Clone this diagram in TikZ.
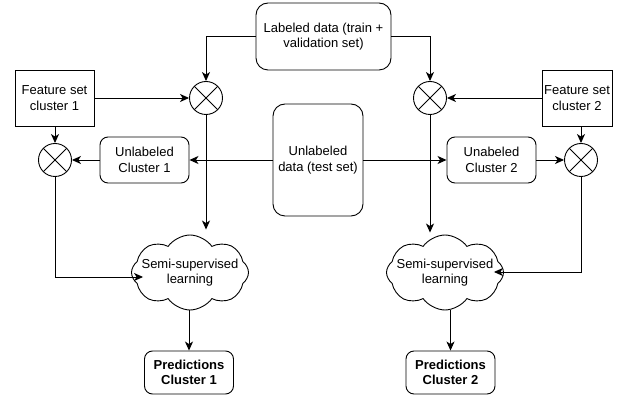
\documentclass[tikz,border=0pt]{standalone}
\usepackage{fontspec}
\setmainfont{Liberation Sans}
\usepackage{tikz}
\usetikzlibrary{shapes.symbols}
\usetikzlibrary{arrows.meta}
\usetikzlibrary{positioning}

\begin{document}
\begin{tikzpicture}[
	x=1pt,y=-1pt,
	line width=0.9pt,
	font=\fontsize{13}{15.5}\selectfont,
	>={Stealth[length=9pt,width=8pt,inset=2.5pt]}
]
\tikzset{
    roundbox/.style = {rectangle, draw=black, rounded corners=8pt, align=center, inner sep=2pt},
    sqbox/.style = {rectangle, draw=black, align=center, inner sep=2pt},
    mixer/.style = {circle, draw=black, minimum size=33pt, inner sep=0pt,
        path picture={\draw (path picture bounding box.north west) -- (path picture bounding box.south east)
                            (path picture bounding box.north east) -- (path picture bounding box.south west);}},
    learncloud/.style = {cloud, draw=black, cloud puffs=8, cloud puff arc=110, cloud ignores aspect,
        minimum width=117pt, minimum height=75pt, align=center, inner sep=0pt}
}
\useasboundingbox (0,0) rectangle (622,395);
% inputs
\node[roundbox,rounded corners=12pt,minimum width=135pt,minimum height=67pt] (lab) at (323.5,36.5) {Labeled data (train +\\validation set)};
\node[roundbox,rounded corners=12pt,minimum width=90pt,minimum height=112pt] (ud) at (318,160) {Unlabeled\\data (test set)};
\node[sqbox,minimum width=79pt,minimum height=56pt] (fs1) at (54.5,98) {Feature set\\cluster 1};
\node[sqbox,minimum width=70pt,minimum height=56pt] (fs2) at (577,98) {Feature set\\cluster 2};
\node[roundbox,minimum width=89pt,minimum height=46pt] (uc1) at (144.5,160) {Unlabeled\\Cluster 1};
\node[roundbox,minimum width=89pt,minimum height=46pt] (uc2) at (491.5,160) {Unabeled\\Cluster 2};
% mixers
\node[mixer] (xo1) at (206,98) {};
\node[mixer] (xo2) at (430,98) {};
\node[mixer] (xl1) at (55,160) {};
\node[mixer] (xr2) at (581,160) {};
% learning
\node[learncloud] (cl1) at (190,272.5) {\makebox[60pt]{Semi-supervised}\\learning};
\node[learncloud] (cl2) at (445,272.5) {\makebox[60pt]{Semi-supervised}\\learning};
\node[roundbox,font=\fontsize{13}{15.5}\selectfont\bfseries,minimum width=89pt,minimum height=43pt] (pr1) at (189,372.5) {Predictions\\Cluster 1};
\node[roundbox,font=\fontsize{13}{15.5}\selectfont\bfseries,minimum width=89pt,minimum height=43pt] (pr2) at (450.5,372.5) {Predictions\\Cluster 2};

\draw[->] (lab.west) -| (xo1.north);
\draw[->] (lab.east) -| (xo2.north);
\draw[->] (fs1.east) -- (xo1.west);
\draw[->] (fs2.west) -- (xo2.east);
\draw[->] (fs1.south -| xl1) -- (xl1.north);
\draw[->] (fs2.south -| xr2) -- (xr2.north);
\draw[->] (ud.west) -- (uc1.east);
\draw[->] (ud.east) -- (uc2.west);
\draw[->] (uc1.west) -- (xl1.east);
\draw[->] (uc2.east) -- (xr2.west);
\draw[->] (xo1.south) -- ([yshift=5pt]xo1 |- cl1.north);
\draw[->] (xo2.south) -- ([yshift=2pt]xo2 |- cl2.north);
\draw[->] (xl1.south) |- ([xshift=12pt]cl1.west |- 0,277);
\draw[->] (xr2.south) |- ([xshift=-10pt]cl2.east |- 0,272);
\draw[->] (pr1.north |- cl1.south) -- (pr1.north);
\draw[->] (pr2.north |- cl2.south) -- (pr2.north);
\end{tikzpicture}
\end{document}
